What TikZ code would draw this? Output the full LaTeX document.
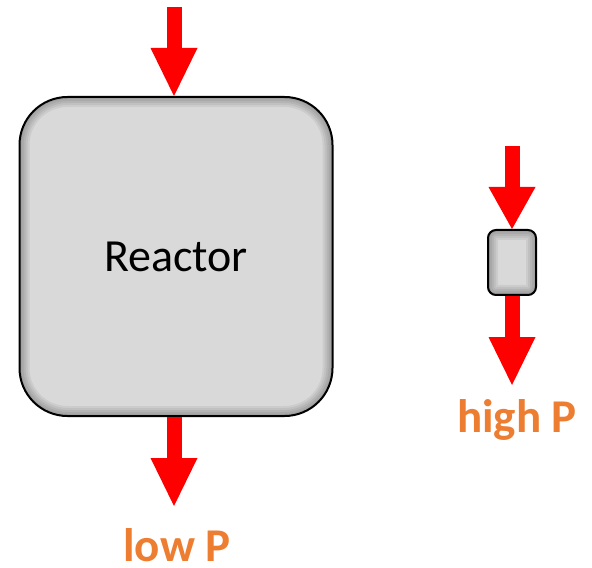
\documentclass[tikz,border=0pt]{standalone}
\usepackage{fontspec}
\setmainfont{Carlito}
\usepackage{tikz}
\definecolor{flowred}{HTML}{ff0000}
\definecolor{porange}{HTML}{ed7d31}
\usetikzlibrary{arrows.meta, positioning, calc}

\tikzset{
    vessel/.style={draw=black, line width=1pt, fill=black!15, rounded corners=#1, inner sep=0pt,
        path picture={
            \foreach \w in {10,8,6,4,2}
                \draw[black, opacity=0.06, line width=\w pt, rounded corners=#1]
                    (path picture bounding box.south west) rectangle (path picture bounding box.north east);
        }},
    flow/.style={flowred, line width=7.5pt, -{Triangle[length=#1, width=23.5pt, line width=0pt]}},
    plabel/.style={text=porange, font=\fontsize{23.5}{28}\selectfont\bfseries, inner sep=0pt, anchor=base},
}

\begin{document}
\begin{tikzpicture}[x=0.5pt, y=0.5pt]
    \useasboundingbox (0,0) rectangle (592,567);

    % Reactor
    \node[vessel=24pt, minimum width=156.5pt, minimum height=159.5pt,
          font=\fontsize{23}{27}\selectfont] (reactor) at (176,310.5) {Reactor};

    % small unit
    \node[vessel=4pt, minimum width=24pt, minimum height=32.5pt] (unit) at (512,304.5) {};

    % Feed and outlet points
    \coordinate (feedR) at (174,560);
    \coordinate (outR) at (174,61);
    \coordinate (feedU) at (512,421);
    \coordinate (outU) at (512,182);

    % Flows
    \draw[flow=24pt] (feedR) -- (feedR |- reactor.north);
    \draw[flow=24pt] (outR |- reactor.south) -- (outR);
    \draw[flow=21pt] (feedU) -- (unit.north);
    \draw[flow=24pt] (unit.south) -- (outU);

    % Pressure labels
    \node[plabel] (lowP) at (177,6) {low P};
    \node[plabel] (highP) at (517,135) {high P};
\end{tikzpicture}
\end{document}
